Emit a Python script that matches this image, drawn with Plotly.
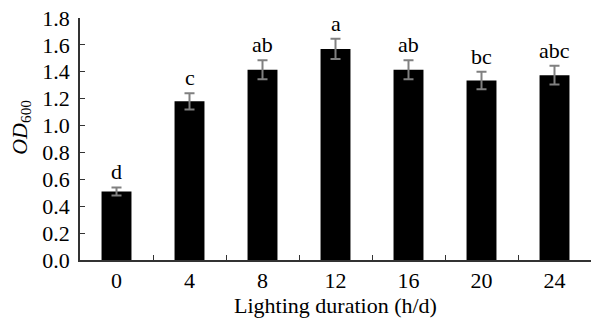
import plotly.graph_objects as go

categories = ["0", "4", "8", "12", "16", "20", "24"]
od600 = [0.51, 1.18, 1.415, 1.57, 1.415, 1.335, 1.375]
err = [0.03, 0.06, 0.07, 0.075, 0.07, 0.065, 0.07]
letters = ["d", "c", "ab", "a", "ab", "bc", "abc"]
yticks = [0.0, 0.2, 0.4, 0.6, 0.8, 1.0, 1.2, 1.4, 1.6, 1.8]

FONT = "Liberation Serif, Times New Roman, serif"

fig = go.Figure()
fig.add_trace(go.Bar(
    x=categories, y=od600,
    marker=dict(color="black", line=dict(width=0)),
    error_y=dict(type="data", array=err, visible=True, color="#808080",
                 thickness=2, width=5),
    width=0.41,
))

for i, (v, e, t) in enumerate(zip(od600, err, letters)):
    fig.add_annotation(x=i, y=v + e, text=t, showarrow=False, xref="x", yref="y",
                       xanchor="center", yanchor="bottom", yshift=1,
                       font=dict(family=FONT, size=22, color="black"))

fig.add_annotation(xref="paper", yref="paper", x=-0.117, y=0.547,
                   xanchor="center", yanchor="middle",
                   text="<i>OD</i><sub>600</sub>", textangle=-90, showarrow=False,
                   font=dict(family=FONT, size=22, color="black"))

fig.update_layout(
    width=592, height=320,
    margin=dict(l=80, r=1, t=18, b=60),
    paper_bgcolor="white", plot_bgcolor="white",
    showlegend=False,
    font=dict(family=FONT, size=22, color="black"),
    xaxis=dict(
        type="category", tickson="boundaries", ticks="inside", ticklen=5,
        tickcolor="#333", tickwidth=1.2, showline=True, linecolor="#333",
        linewidth=1.5, showgrid=False, zeroline=False,
        range=[-0.5, 6.5],
        title=dict(text="Lighting duration (h/d)", standoff=4,
                   font=dict(family=FONT, size=22)),
        tickfont=dict(family=FONT, size=22),
    ),
    yaxis=dict(
        range=[0, 1.8], tickvals=yticks, ticktext=[f"{v:.1f}" for v in yticks],
        ticks="inside", ticklen=5, tickcolor="#333", tickwidth=1.2,
        showline=True, linecolor="#333", linewidth=1.5,
        showgrid=False, zeroline=False, ticklabelstandoff=4,
        tickfont=dict(family=FONT, size=22),
    ),
)

fig.write_html("out.html")
